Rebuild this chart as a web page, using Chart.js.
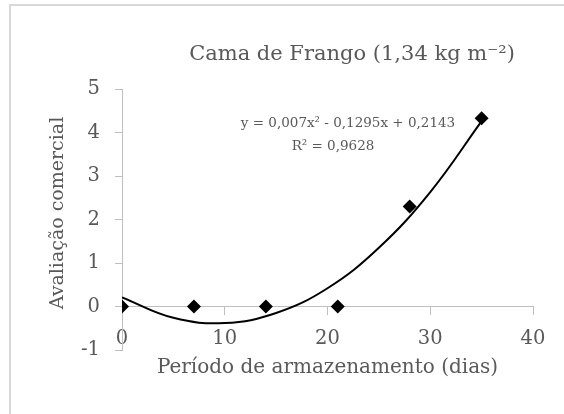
<!DOCTYPE html>
<html lang="pt-BR">
<head>
<meta charset="utf-8">
<title>Cama de Frango</title>
<script src="https://cdn.jsdelivr.net/npm/chart.js@4.4.1/dist/chart.umd.min.js"></script>
<style>
  html, body { margin: 0; padding: 0; background: #fff; overflow: hidden; }
  .quadro { position: relative; width: 564px; height: 414px; overflow: hidden; }
  .moldura { position: absolute; left: 9px; top: 4px; width: 600px; height: 500px; border: 2px solid #d9d9d9; }
  canvas { position: absolute; left: 0; top: 0; }
</style>
</head>
<body>
<div class="quadro">
  <div class="moldura"></div>
  <canvas id="grafico" width="564" height="414"></canvas>
</div>
<script>
//#region Dados
const dias = [0, 7, 14, 21, 28, 35];
const avaliacao = [0, 0, 0, 0, 2.3, 4.33];
// linha de tendência, a cada 5 dias
const diasTendencia = [0, 5, 10, 15, 20, 25, 30, 35];
const tendencia = [0.21, -0.26, -0.38, -0.15, 0.42, 1.35, 2.63, 4.26];
const ticksX = [0, 10, 20, 30, 40];
const ticksY = [-1, 0, 1, 2, 3, 4, 5];
const titulo = 'Cama de Frango (1,34 kg m⁻²)';
const tituloY = 'Avaliação comercial';
const equacao = 'y = 0,007x² - 0,1295x + 0,2143';
const r2 = 'R² = 0,9628';
//#endregion

const cinzaTexto = '#595959';
const cinzaEixo = '#bfbfbf';
const fonte = "'DejaVu Serif', serif";

//#region Título, título do eixo Y e equação (textos soltos)
const textos = {
  id: 'textos',
  afterDraw(chart) {
    const c = chart.ctx;
    c.save();
    c.fillStyle = cinzaTexto;
    c.textAlign = 'center';
    c.textBaseline = 'alphabetic';
    c.font = '21px ' + fonte;
    c.fillText(titulo, 352, 60);
    c.font = '13.5px ' + fonte;
    c.fillText(equacao, 348, 127);
    c.fillText(r2, 333, 150);

    // título do eixo Y, girado
    c.translate(58, 213);
    c.rotate(-Math.PI / 2);
    c.textBaseline = 'middle';
    c.font = '19px ' + fonte;
    c.fillText(tituloY, 0, 0);
    c.restore();
  }
};
//#endregion

const ctx = document.getElementById('grafico').getContext('2d');

new Chart(ctx, {
  type: 'scatter',
  data: {
    datasets: [
      {
        label: 'Avaliação comercial',
        data: dias.map((d, i) => ({ x: d, y: avaliacao[i] })),
        pointStyle: 'rectRot',
        pointRadius: 7,
        backgroundColor: '#000',
        borderColor: '#000',
        borderWidth: 0
      },
      {
        label: 'Tendência',
        data: diasTendencia.map((d, i) => ({ x: d, y: tendencia[i] })),
        showLine: true,
        borderColor: '#000',
        borderWidth: 2,
        pointRadius: 0,
        tension: 0.4,
        fill: false
      }
    ]
  },
  options: {
    responsive: false,
    animation: false,
    layout: { padding: { top: 89, right: 31, left: 0, bottom: 0 } },
    plugins: {
      legend: { display: false },
      tooltip: { enabled: false }
    },
    scales: {
      x: {
        type: 'linear',
        min: 0,
        max: 40,
        position: { y: 0 }, // eixo cruza no zero
        afterBuildTicks: s => { s.ticks = ticksX.map(v => ({ value: v })); },
        grid: { drawOnChartArea: false, drawTicks: true, tickLength: 8, color: cinzaEixo },
        border: { color: cinzaEixo, width: 1 },
        ticks: { color: cinzaTexto, font: { family: fonte, size: 19.5 }, padding: 13, maxRotation: 0 }
      },
      x2: {
        type: 'linear',
        axis: 'x',
        min: 0,
        max: 40,
        position: 'bottom',
        grid: { display: false },
        border: { display: false },
        ticks: { display: false },
        title: {
          display: true,
          text: 'Período de armazenamento (dias)',
          color: cinzaTexto,
          font: { family: fonte, size: 20 },
          padding: { top: 0, bottom: 34 }
        },
        afterFit: s => { s.height = 64; }
      },
      y: {
        type: 'linear',
        min: -1,
        max: 5,
        afterBuildTicks: s => { s.ticks = ticksY.map(v => ({ value: v })); },
        afterFit: s => { s.width = 122; },
        grid: { drawOnChartArea: false, drawTicks: true, tickLength: 7, color: cinzaEixo },
        border: { color: cinzaEixo, width: 1 },
        ticks: { color: cinzaTexto, font: { family: fonte, size: 19.5 }, padding: 15 }
      }
    }
  },
  plugins: [textos]
});
</script>
</body>
</html>
